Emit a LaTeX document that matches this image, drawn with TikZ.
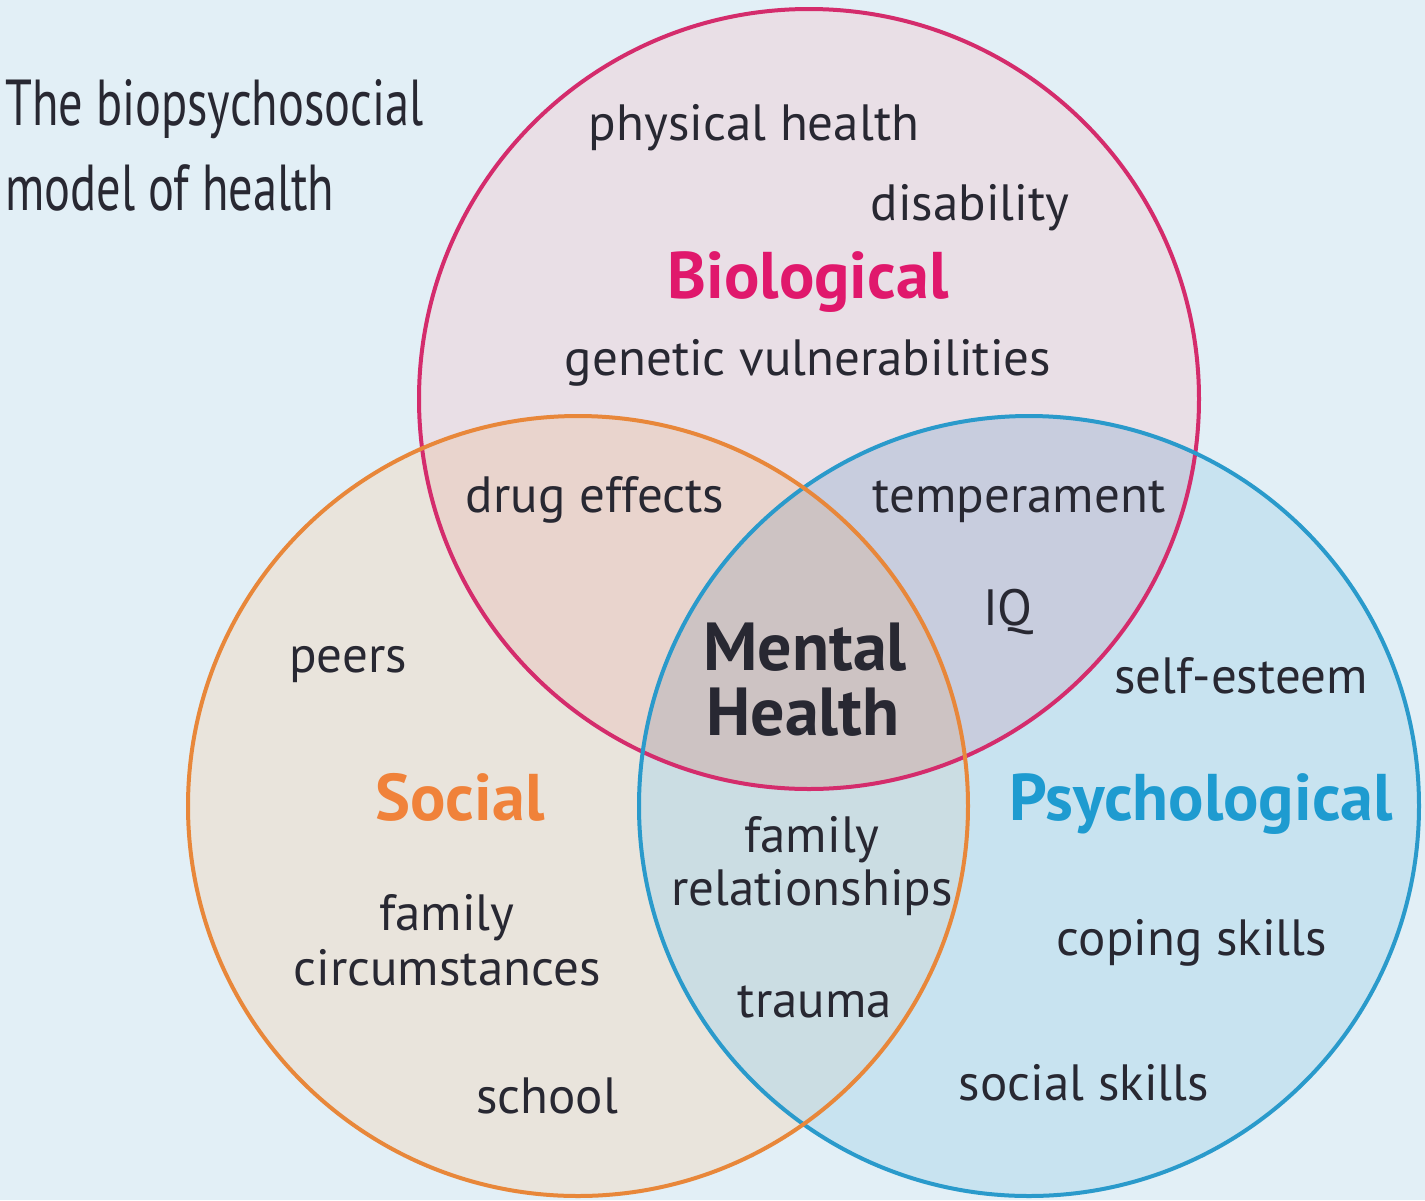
\documentclass[tikz,border=0pt]{standalone}
\usepackage{fontspec}
\setmainfont{PT Sans}
\definecolor{bgc}{RGB}{226,239,246}
\definecolor{bfill}{RGB}{233,223,230}
\definecolor{sfill}{RGB}{233,228,220}
\definecolor{pfill}{RGB}{200,227,240}
\definecolor{bsfill}{RGB}{233,212,205}
\definecolor{bpfill}{RGB}{200,205,222}
\definecolor{spfill}{RGB}{203,221,227}
\definecolor{bspfill}{RGB}{205,195,195}
\definecolor{bline}{RGB}{212,44,108}
\definecolor{sline}{RGB}{232,135,58}
\definecolor{pline}{RGB}{42,154,203}
\definecolor{txt}{RGB}{40,40,50}
\definecolor{btxt}{RGB}{224,24,108}
\definecolor{stxt}{RGB}{240,130,58}
\definecolor{ptxt}{RGB}{30,155,208}
\begin{document}
\begin{tikzpicture}[x=0.5pt,y=-0.5pt,
  lbl/.style={anchor=base,inner sep=0pt,text=txt,font=\fontsize{25.5}{30}\selectfont},
  head/.style={anchor=base,inner sep=0pt,font=\fontsize{33}{38}\selectfont\bfseries},
  ttl/.style={anchor=base west,inner sep=0pt,text=txt,font=\fontsize{32.5}{36}\selectfont},
  ring/.style={line width=2pt}]
\useasboundingbox (0,0) rectangle (1425,1200);
\fill[bgc] (0,0) rectangle (1425,1200);
\clip (0,0) rectangle (1425,1200);
\coordinate (cb) at (809,399);
\coordinate (cs) at (578,806);
\coordinate (cp) at (1029,806);
\def\RR{195pt}
% base fills
\fill[bfill] (cb) circle[radius=\RR];
\fill[sfill] (cs) circle[radius=\RR];
\fill[pfill] (cp) circle[radius=\RR];
\begin{scope}
  \clip (cb) circle[radius=\RR];
  \fill[bsfill] (cs) circle[radius=\RR];
  \fill[bpfill] (cp) circle[radius=\RR];
\end{scope}
\begin{scope}
  \clip (cs) circle[radius=\RR];
  \fill[spfill] (cp) circle[radius=\RR];
  \clip (cb) circle[radius=\RR];
  \fill[bspfill] (cp) circle[radius=\RR];
\end{scope}
% rings
\draw[ring,bline] (cb) circle[radius=\RR];
\draw[ring,pline] (cp) circle[radius=\RR];
\draw[ring,sline] (cs) circle[radius=\RR];
% title
\node[ttl] (t1) at (5,125) {\scalebox{0.745}[1]{The biopsychosocial}};
\node[ttl] (t2) at (5,210) {\scalebox{0.745}[1]{model of health}};
% headings
\node[head,text=btxt] (hb) at (808,298) {Biological};
\node[head,text=stxt] (hs) at (460,820) {Social};
\node[head,text=ptxt] (hp) at (1201,820) {Psychological};
\node[head,text=txt,font=\fontsize{34}{36}\selectfont\bfseries] (mh) at (805,670) {Mental};
\node[head,text=txt,font=\fontsize{34}{36}\selectfont\bfseries] (mh2) at (803,735) {Health};
% labels
\node[lbl] (l1) at (754,140) {physical health};
\node[lbl] (l2) at (970,220) {disability};
\node[lbl] (l3) at (808,375) {genetic vulnerabilities};
\node[lbl] (l4) at (595,512) {drug effects};
\node[lbl] (l5) at (1019,512) {temperament};
\node[lbl] (l6) at (1008,625) {IQ};
\node[lbl] (l7) at (348,672) {peers};
\node[lbl] (l8) at (1241,693) {self-esteem};
\node[lbl] (l9) at (812,852) {family};
\node[lbl] (l10) at (812,905) {relationships};
\node[lbl] (l11) at (447,930) {family};
\node[lbl] (l12) at (447,985) {circumstances};
\node[lbl] (l13) at (815,1017) {trauma};
\node[lbl] (l14) at (1192,955) {coping skills};
\node[lbl] (l15) at (547,1113) {school};
\node[lbl] (l16) at (1084,1100) {social skills};
\end{tikzpicture}
\end{document}
